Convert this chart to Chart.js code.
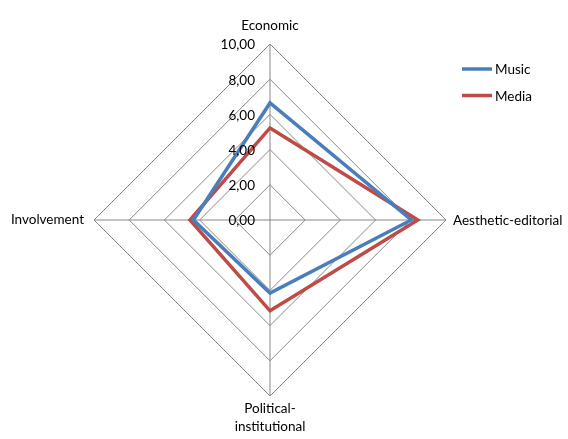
<!DOCTYPE html>
<html>
<head>
<meta charset="utf-8">
<script src="https://cdn.jsdelivr.net/npm/chart.js@4/dist/chart.umd.min.js"></script>
<style>
  html, body { margin: 0; padding: 0; background: #ffffff; }
  #wrap { width: 568px; height: 439px; }
</style>
</head>
<body>
<div id="wrap"><canvas id="chart" width="568" height="439"></canvas></div>
<script>
// Dimensions of the profile
const categories = ['Economic', 'Aesthetic-editorial', ['Political-', 'institutional'], 'Involvement'];
const musicValues = [6.65, 8.03, 4.15, 4.35];
const mediaValues = [5.23, 8.40, 5.16, 4.55];
const tickValues = [0, 2, 4, 6, 8, 10];
const tickLabels = ['0,00', '2,00', '4,00', '6,00', '8,00', '10,00'];
const seriesNames = ['Music', 'Media'];
const seriesColors = ['#4a7ebb', '#be4b48'];

const FONT = '13.5px Lato, "Open Sans", sans-serif';

// Axis titles, tick labels and the legend drawn on top of the radial grid
const annotations = {
  id: 'annotations',
  afterDraw(chart) {
    const ctx = chart.ctx;
    const r = chart.scales.r;
    ctx.save();
    ctx.font = FONT;
    ctx.fillStyle = '#000000';

    // tick labels, to the left of the vertical axis
    ctx.textAlign = 'right';
    ctx.textBaseline = 'middle';
    tickValues.forEach((v, i) => {
      const p = r.getPointPositionForValue(0, v);
      ctx.fillText(tickLabels[i], p.x - 15, p.y + 1);
    });

    // axis titles
    const outer = categories.map((_, i) => r.getPointPositionForValue(i, 10));
    ctx.textAlign = 'center';
    ctx.textBaseline = 'middle';
    ctx.fillText(categories[0], outer[0].x, outer[0].y - 18);
    ctx.textAlign = 'left';
    ctx.fillText(categories[1], outer[1].x + 7, outer[1].y + 1);
    ctx.textAlign = 'center';
    ctx.fillText(categories[2][0], outer[2].x, outer[2].y + 13);
    ctx.fillText(categories[2][1], outer[2].x, outer[2].y + 31);
    ctx.textAlign = 'right';
    ctx.fillText(categories[3], outer[3].x - 10, outer[3].y);

    // legend
    ctx.textAlign = 'left';
    seriesNames.forEach((name, i) => {
      const y = 69 + i * 26.5;
      ctx.strokeStyle = seriesColors[i];
      ctx.lineWidth = 3.5;
      ctx.beginPath();
      ctx.moveTo(462, y);
      ctx.lineTo(492, y);
      ctx.stroke();
      ctx.fillStyle = '#000000';
      ctx.fillText(name, 495, y + 1);
    });
    ctx.restore();
  }
};

new Chart(document.getElementById('chart'), {
  type: 'radar',
  data: {
    labels: categories,
    datasets: [
      {
        label: seriesNames[0],
        data: musicValues,
        borderColor: seriesColors[0],
        backgroundColor: 'transparent',
        borderWidth: 3.5,
        pointRadius: 0,
        fill: false
      },
      {
        label: seriesNames[1],
        data: mediaValues,
        borderColor: seriesColors[1],
        backgroundColor: 'transparent',
        borderWidth: 3.5,
        pointRadius: 0,
        fill: false
      }
    ]
  },
  options: {
    responsive: false,
    animation: false,
    layout: { padding: { left: 94, top: 44, right: 121, bottom: 42 } },
    plugins: { legend: { display: false }, tooltip: { enabled: false } },
    elements: { line: { tension: 0 } },
    scales: {
      r: {
        min: 0,
        max: 10,
        startAngle: 0,
        ticks: { display: false, stepSize: 2 },
        pointLabels: { display: false },
        grid: { color: '#878787', lineWidth: 1 },
        angleLines: { color: '#878787', lineWidth: 1 }
      }
    }
  },
  plugins: [annotations]
});
</script>
</body>
</html>
